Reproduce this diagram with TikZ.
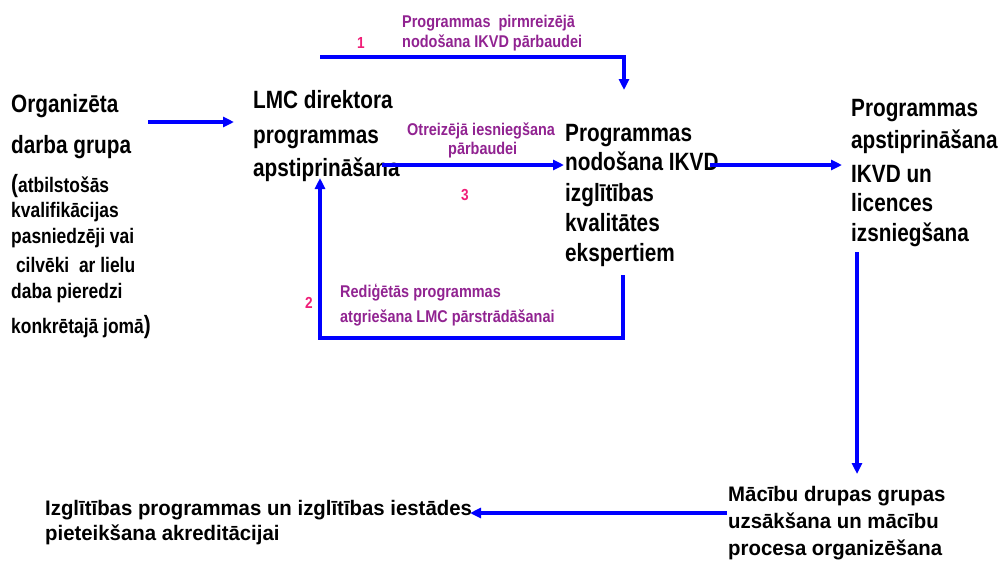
\documentclass[tikz,border=0pt]{standalone}
\usepackage{fontspec}
\usetikzlibrary{arrows.meta}
\newfontfamily\fbig{Liberation Sans}[FakeStretch=0.83]
\newfontfamily\flow{Liberation Sans}[FakeStretch=0.97]
\newfontfamily\flab{Liberation Sans}[FakeStretch=0.85]
\definecolor{flowblue}{RGB}{0,0,255}
\definecolor{labpurple}{RGB}{145,35,145}
\definecolor{numpink}{RGB}{240,30,120}
\tikzset{
  big/.style={anchor=base west,inner sep=0pt,font=\fbig\bfseries\fontsize{25}{30}\selectfont},
  mid/.style={anchor=base west,inner sep=0pt,font=\fbig\bfseries\fontsize{21}{25}\selectfont},
  low/.style={anchor=base west,inner sep=0pt,font=\flow\bfseries\fontsize{21}{25}\selectfont},
  lab/.style={anchor=base west,inner sep=0pt,text=labpurple,font=\flab\bfseries\fontsize{17}{20}\selectfont},
  num/.style={anchor=base west,inner sep=0pt,text=numpink,font=\flab\bfseries\fontsize{16}{19}\selectfont},
  flow/.style={draw=flowblue,line width=3.3pt,line join=miter,-{Triangle[length=11pt,width=10pt]}}
}
\begin{document}
\begin{tikzpicture}[x=1pt,y=-1pt]
\useasboundingbox[fill=white] (0,0) rectangle (998,560);
% left block
\node[big] (o1) at (11,112) {Organizēta};
\node[big] (o2) at (11,153) {darba grupa};
\node[mid] (o3) at (11,192) {{\fontsize{25}{30}\selectfont(}atbilstošās};
\node[mid] (o4) at (11,217) {kvalifikācijas};
\node[mid] (o5) at (11,243) {pasniedzēji vai};
\node[mid] (o6) at (11,272) {\ cilvēki\ \ ar lielu};
\node[mid] (o7) at (11,298) {daba pieredzi};
\node[mid] (o8) at (11,333) {konkrētajā jomā{\fontsize{25}{30}\selectfont)}};
% LMC block
\node[big] (l1) at (253,108) {LMC direktora};
\node[big] (l2) at (253,143) {programmas};
\node[big] (l3) at (253,176) {apstiprināšana};
% IKVD block
\node[big] (k1) at (565,141) {Programmas};
\node[big] (k2) at (565,170) {nodošana IKVD};
\node[big] (k3) at (565,201) {izglītības};
\node[big] (k4) at (565,231) {kvalitātes};
\node[big] (k5) at (565,261) {ekspertiem};
% right block
\node[big] (r1) at (851,116) {Programmas};
\node[big] (r2) at (851,148) {apstiprināšana};
\node[big] (r3) at (851,182) {IKVD un};
\node[big] (r4) at (851,211) {licences};
\node[big] (r5) at (851,241) {izsniegšana};
% bottom right
\node[low] (m1) at (728,501) {Mācību drupas grupas};
\node[low] (m2) at (728,528) {uzsākšana un mācību};
\node[low] (m3) at (728,555) {procesa organizēšana};
% bottom left
\node[low] (i1) at (45,515) {Izglītības programmas un izglītības iestādes};
\node[low] (i2) at (45,540) {pieteikšana akreditācijai};
% labels
\node[lab] (t1) at (402,27) {Programmas\ \ pirmreizējā};
\node[lab] (t2) at (402,47) {nodošana IKVD pārbaudei};
\node[num] (n1) at (357,48) {1};
\node[lab] (t3) at (407,135) {Otreizējā iesniegšana};
\node[lab] (t4) at (448,154) {pārbaudei};
\node[num] (n3) at (461,200) {3};
\node[lab] (t5) at (340,297) {Rediģētās programmas};
\node[lab] (t6) at (340,322) {atgriešana LMC pārstrādāšanai};
\node[num] (n2) at (305,308) {2};
% connector points
\coordinate (a0) at (148,122);
\coordinate (a1) at (234,122);
\coordinate (b0) at (320,57);
\coordinate (b1) at (624,57);
\coordinate (b2) at (624,90);
\coordinate (c0) at (382,165);
\coordinate (c1) at (564,165);
\coordinate (d0) at (623,275);
\coordinate (d1) at (623,338);
\coordinate (d2) at (320,338);
\coordinate (d3) at (320,178);
\coordinate (e0) at (710,165);
\coordinate (e1) at (842,165);
\coordinate (f0) at (857,252);
\coordinate (f1) at (857,474);
\coordinate (g0) at (727,513);
\coordinate (g1) at (470,513);
% connectors
\draw[flow] (a0) -- (a1);
\draw[flow] (b0) -- (b1) -- (b2);
\draw[flow] (c0) -- (c1);
\draw[flow] (d0) -- (d1) -- (d2) -- (d3);
\draw[flow] (e0) -- (e1);
\draw[flow] (f0) -- (f1);
\draw[flow] (g0) -- (g1);
\end{tikzpicture}
\end{document}
